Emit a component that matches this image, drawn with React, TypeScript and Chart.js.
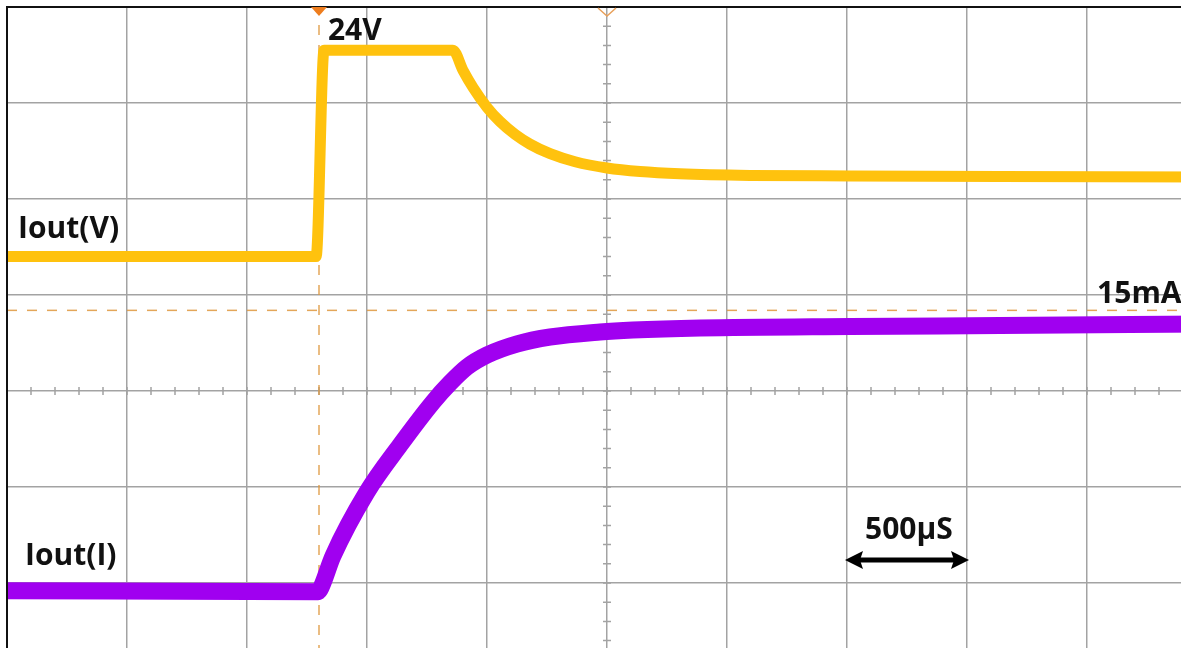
import React, { useEffect, useRef } from "react";
import { Chart, registerables } from "chart.js";

Chart.register(...registerables);

// ---- Data (time in µs, amplitude in screen divisions, centre = 0) ----
const voltageTimeUs = [0, 1288, 1321, 1858, 1900, 1942, 2000, 2054, 2117, 2179, 2263, 2367, 2500, 2638, 2804, 3096, 3513, 4138, 5000];
const voltageDiv = [1.4, 1.4, 3.55, 3.55, 3.34, 3.16, 2.955, 2.807, 2.673, 2.572, 2.472, 2.388, 2.323, 2.286, 2.263, 2.246, 2.24, 2.234, 2.229];

const currentTimeUs = [0, 1296, 1304, 1358, 1500, 1638, 1775, 1846, 1917, 2000, 2125, 2263, 2471, 2608, 2888, 3513, 4138, 5000];
const currentDiv = [-2.08, -2.09, -2.07, -1.72, -1.052, -0.5625, -0.115, 0.083, 0.25, 0.375, 0.49, 0.5625, 0.615, 0.635, 0.656, 0.672, 0.682, 0.698];

const triggerTimeUs = 1300;
const currentLevelDiv = 0.84;
const timeRangeUs = [0, 5000];
const timePerDivUs = 500;
const divRange = [-4, 4];
const scaleBarUs = [3500, 4000];
const scaleBarDiv = -1.76;

const labelTexts = ["24V", "Iout(V)", "Iout(I)", "15mA", "500µS"];
const labelTimeUs = [1337, 46, 75, 4542, 3575];
const labelDiv = [3.66, 1.59, -1.81, 0.92, -1.54];

const YELLOW = "#FFC20E";
const PURPLE = "#A000F0";
const GRID = "#a3a3a3";
const DASH = "rgba(222,150,60,0.85)";
const FONT = "bold 30px 'Open Sans', 'DejaVu Sans', sans-serif";

const pts = (xs: number[], ys: number[]) => xs.map((x, i) => ({ x, y: ys[i] }));

const scopePlugin = {
  id: "scopeDecor",
  beforeDatasetsDraw(chart: any) {
    const { ctx, scales } = chart;
    const xs = scales.x;
    const ys = scales.y;
    ctx.save();
    ctx.strokeStyle = GRID;
    ctx.lineWidth = 1.5;
    const cy = ys.getPixelForValue(0);
    const cx = xs.getPixelForValue((timeRangeUs[0] + timeRangeUs[1]) / 2);
    ctx.beginPath();
    for (let t = timeRangeUs[0]; t <= timeRangeUs[1]; t += timePerDivUs / 5) {
      const px = xs.getPixelForValue(t);
      ctx.moveTo(px, cy - 4);
      ctx.lineTo(px, cy + 4);
    }
    for (let v = divRange[0]; v <= divRange[1] + 1e-6; v += 0.2) {
      const py = ys.getPixelForValue(v);
      ctx.moveTo(cx - 4, py);
      ctx.lineTo(cx + 4, py);
    }
    ctx.stroke();
    ctx.restore();
  },
  afterDraw(chart: any) {
    const { ctx, chartArea: a, scales } = chart;
    const xs = scales.x;
    const ys = scales.y;
    ctx.save();
    // frame
    ctx.strokeStyle = "#111";
    ctx.lineWidth = 2;
    ctx.beginPath();
    ctx.moveTo(a.left, a.bottom);
    ctx.lineTo(a.left, a.top);
    ctx.lineTo(a.right, a.top);
    ctx.stroke();

    // trigger marker (filled)
    const tx = xs.getPixelForValue(triggerTimeUs);
    ctx.fillStyle = "#EE7D1E";
    ctx.beginPath();
    ctx.moveTo(tx - 8, a.top);
    ctx.lineTo(tx + 8, a.top);
    ctx.lineTo(tx, a.top + 9);
    ctx.closePath();
    ctx.fill();

    // centre marker (hollow)
    const cx = xs.getPixelForValue((timeRangeUs[0] + timeRangeUs[1]) / 2);
    ctx.strokeStyle = "#E8A05A";
    ctx.lineWidth = 1.5;
    ctx.beginPath();
    ctx.moveTo(cx - 9, a.top + 1);
    ctx.lineTo(cx, a.top + 9);
    ctx.lineTo(cx + 9, a.top + 1);
    ctx.stroke();

    // scale bar arrow
    const x1 = xs.getPixelForValue(scaleBarUs[0]);
    const x2 = xs.getPixelForValue(scaleBarUs[1]);
    const ay = ys.getPixelForValue(scaleBarDiv);
    ctx.strokeStyle = "#000";
    ctx.fillStyle = "#000";
    ctx.lineWidth = 5;
    ctx.beginPath();
    ctx.moveTo(x1 + 10, ay);
    ctx.lineTo(x2 - 10, ay);
    ctx.stroke();
    ctx.beginPath();
    ctx.moveTo(x1 - 2, ay);
    ctx.lineTo(x1 + 16, ay - 9);
    ctx.lineTo(x1 + 13, ay);
    ctx.lineTo(x1 + 16, ay + 9);
    ctx.closePath();
    ctx.fill();
    ctx.beginPath();
    ctx.moveTo(x2 + 2, ay);
    ctx.lineTo(x2 - 16, ay - 9);
    ctx.lineTo(x2 - 13, ay);
    ctx.lineTo(x2 - 16, ay + 9);
    ctx.closePath();
    ctx.fill();

    // labels
    ctx.font = FONT;
    ctx.fillStyle = "#111";
    ctx.textBaseline = "alphabetic";
    ctx.textAlign = "left";
    labelTexts.forEach((t, i) => {
      ctx.fillText(t, xs.getPixelForValue(labelTimeUs[i]), ys.getPixelForValue(labelDiv[i]));
    });
    ctx.restore();
  },
};

export default function App() {
  const ref = useRef<HTMLCanvasElement | null>(null);
  useEffect(() => {
    if (!ref.current) return;
    const chart = new Chart(ref.current, {
      type: "line",
      data: {
        datasets: [
          {
            label: "trigger",
            data: [
              { x: triggerTimeUs, y: divRange[0] },
              { x: triggerTimeUs, y: divRange[1] },
            ],
            borderColor: DASH,
            borderWidth: 1.5,
            borderDash: [10, 10],
            pointRadius: 0,
            order: 3,
          },
          {
            label: "level",
            data: [
              { x: timeRangeUs[0], y: currentLevelDiv },
              { x: timeRangeUs[1], y: currentLevelDiv },
            ],
            borderColor: DASH,
            borderWidth: 1.5,
            borderDash: [10, 10],
            pointRadius: 0,
            order: 3,
          },
          {
            label: "Iout(V)",
            data: pts(voltageTimeUs, voltageDiv),
            borderColor: YELLOW,
            borderWidth: 11,
            pointRadius: 0,
            cubicInterpolationMode: "monotone",
            borderJoinStyle: "round",
            order: 2,
          },
          {
            label: "Iout(I)",
            data: pts(currentTimeUs, currentDiv),
            borderColor: PURPLE,
            borderWidth: 17,
            pointRadius: 0,
            cubicInterpolationMode: "monotone",
            borderJoinStyle: "round",
            order: 1,
          },
        ],
      },
      options: {
        animation: false,
        responsive: false,
        devicePixelRatio: 1,
        layout: { padding: { left: 7, top: 7, right: 8, bottom: 15 } },
        plugins: { legend: { display: false }, tooltip: { enabled: false }, title: { display: false } },
        scales: {
          x: {
            type: "linear",
            min: timeRangeUs[0],
            max: timeRangeUs[1],
            ticks: { display: false, stepSize: timePerDivUs },
            grid: { color: GRID, lineWidth: 1.5, drawTicks: false },
            border: { display: false },
            afterFit: (s: any) => {
              s.height = 0;
            },
          },
          y: {
            type: "linear",
            min: divRange[0],
            max: divRange[1],
            ticks: { display: false, stepSize: 1 },
            grid: { color: GRID, lineWidth: 1.5, drawTicks: false },
            border: { display: false },
            afterFit: (s: any) => {
              s.width = 0;
            },
          },
        },
      },
      plugins: [scopePlugin],
    } as any);
    return () => chart.destroy();
  }, []);

  return (
    <div style={{ position: "fixed", left: 0, top: 0, width: 1181, height: 648, overflow: "hidden", background: "#fff" }}>
      <canvas ref={ref} width={1215} height={790} style={{ width: 1215, height: 790, display: "block" }} />
    </div>
  );
}
